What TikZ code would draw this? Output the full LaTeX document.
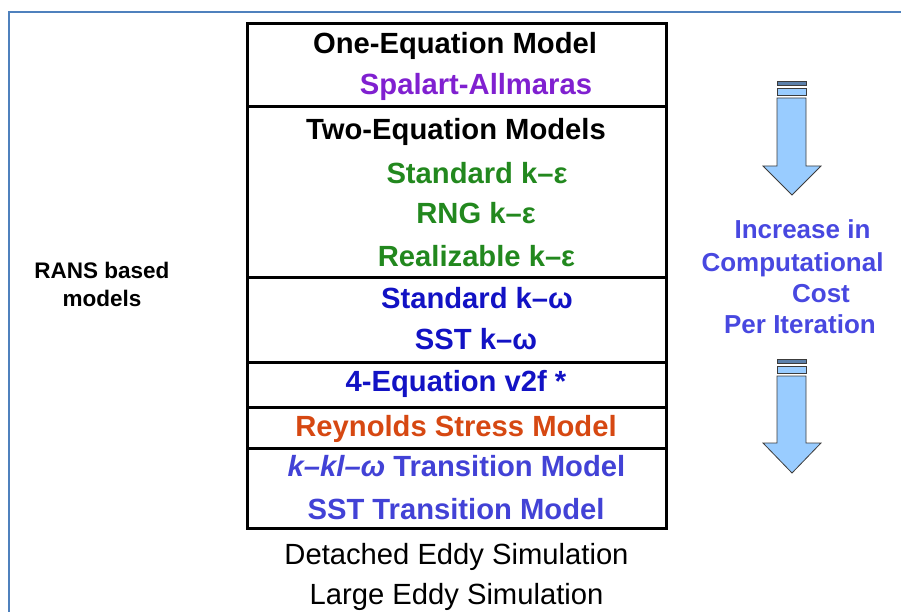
\documentclass[tikz,border=0pt]{standalone}
\usepackage{fontspec}
\setmainfont{Liberation Sans}
\definecolor{framebl}{RGB}{79,129,189}
\definecolor{purp}{RGB}{128,32,208}
\definecolor{grn}{RGB}{34,136,30}
\definecolor{dkbl}{RGB}{18,18,196}
\definecolor{trbl}{RGB}{66,66,214}
\definecolor{incbl}{RGB}{72,72,224}
\definecolor{rsm}{RGB}{214,72,18}
\definecolor{arrfill}{RGB}{153,204,255}
\definecolor{arrdark}{RGB}{92,128,170}
\definecolor{arredge}{RGB}{60,60,60}
\tikzset{
  big/.style={anchor=base, inner sep=0pt, font=\fontsize{29.2}{35}\selectfont\bfseries},
  plain/.style={anchor=base, inner sep=0pt, font=\fontsize{29.2}{35}\selectfont},
  side/.style={anchor=base, inner sep=0pt, font=\fontsize{22.5}{27}\selectfont\bfseries},
  inc/.style={anchor=base, inner sep=0pt, text=incbl, font=\fontsize{26}{31}\selectfont\bfseries},
  tbl/.style={line width=3pt, black},
  arr/.style={fill=arrfill, draw=arredge, line width=0.8pt, line join=miter},
}
\begin{document}
\begin{tikzpicture}[x=1pt,y=-1pt]
\useasboundingbox (0,0) rectangle (901,612);
% outer frame
\draw[framebl, line width=1.6pt] (9,612) -- (9,12) -- (901,12);
% table
\draw[tbl] (247,24) rectangle (666,528);
\foreach \yy in {107,277,362,407,448} \draw[tbl] (247,\yy) -- (666,\yy);
% table texts
\node[big] (one) at (455,54) {One-Equation Model};
\node[big, text=purp] (sa) at (476,95) {Spalart-Allmaras};
\node[big] (two) at (456,139.5) {Two-Equation Models};
\node[big, text=grn] (ske) at (477,183.5) {Standard k–ε};
\node[big, text=grn] (rng) at (476,224) {RNG k–ε};
\node[big, text=grn] (rke) at (476.5,266.5) {Realizable k–ε};
\node[big, text=dkbl] (skw) at (477,308.5) {Standard k–ω};
\node[big, text=dkbl] (sst) at (476,349.5) {SST k–ω};
\node[big, text=dkbl] (v2f) at (456,391.5) {4-Equation v2f *};
\node[big, text=rsm] (rs) at (456,436) {Reynolds Stress Model};
\node[big, text=trbl] (kkl) at (456.5,476.5) {\textit{k–kl–ω} Transition Model};
\node[big, text=trbl] (sstt) at (456,519.5) {SST Transition Model};
\node[plain] (des) at (456.5,564) {Detached Eddy Simulation};
\node[plain] (les) at (456.5,604) {Large Eddy Simulation};
% side label
\node[side] (rans1) at (102,278.5) {RANS based};
\node[side] (rans2) at (102,306.5) {models};
% increase label
\node[inc] (i1) at (802.5,238) {Increase in};
\node[inc] (i2) at (792.5,271) {Computational};
\node[inc] (i3) at (821,302) {Cost};
\node[inc] (i4) at (800,333) {Per Iteration};
% arrows
\foreach \t/\hs/\tip in {81/166/195, 359/443/473}{
  \draw[arr, fill=arrdark] (777,\t) rectangle (806,\t+4);
  \draw[arr] (777,\t+7) rectangle (806,\t+14);
  \draw[arr] (777,\t+17) -- (806,\t+17) -- (806,\hs) -- (821,\hs) -- (792,\tip) -- (763,\hs) -- (777,\hs) -- cycle;
}
\end{tikzpicture}
\end{document}
